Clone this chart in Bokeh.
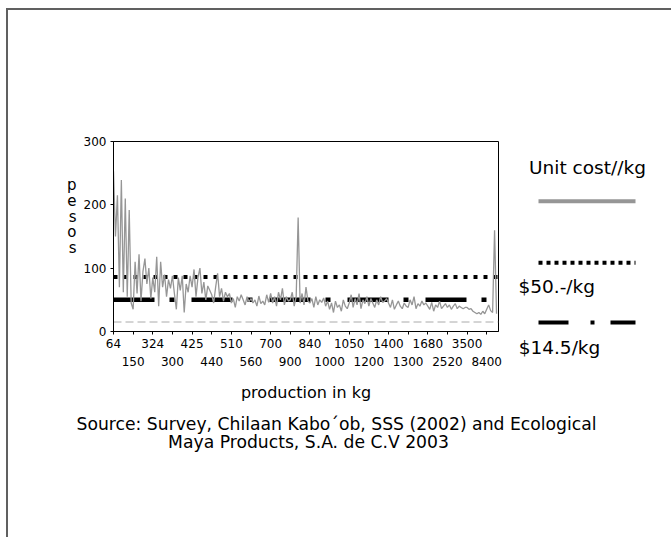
from bokeh.plotting import figure
from bokeh.models import Range1d, FixedTicker, LinearAxis, Span
from bokeh.layouts import column, row
from bokeh.embed import file_html
from bokeh.resources import INLINE
from bokeh.core.properties import value

# ---------------- data ----------------
unit_cost = [
    253, 150, 215, 70, 239, 62, 210, 55, 192, 45,
    35, 110, 60, 122, 48, 95, 115, 75, 100, 52,
    85, 62, 118, 40, 110, 70, 90, 55, 82, 68,
    88, 60, 35, 85, 65, 88, 30, 75, 62, 88,
    70, 98, 55, 85, 100, 60, 78, 50, 72, 65,
    58, 45, 70, 92, 55, 68, 48, 62, 55, 60,
    45, 52, 38, 55, 48, 58, 50, 42, 55, 47,
    52, 45, 50, 40, 56, 44, 48, 42, 58, 46,
    60, 45, 55, 40, 62, 50, 68, 42, 55, 48,
    50, 62, 40, 55, 180, 45, 60, 42, 70, 48,
    45, 52, 38, 55, 42, 50, 46, 53, 40, 48,
    35, 45, 30, 48, 38, 42, 32, 50, 40, 36,
    45, 58, 38, 52, 42, 60, 36, 50, 44, 55,
    40, 52, 45, 38, 50, 42, 55, 46, 48, 52,
    45, 38, 50, 35, 42, 48, 40, 36, 45, 40,
    38, 50, 42, 55, 36, 44, 40, 48, 42, 45,
    40, 35, 46, 32, 42, 38, 48, 36, 40, 44,
    38, 42, 35, 40, 44, 36, 40, 38, 36, 38,
    38, 35, 36, 32, 30, 28, 30, 27, 32, 28,
    35, 42, 33, 30, 160, 28,
]
obs = list(range(len(unit_cost)))

tick_pos_row1 = [0, 20, 40, 60, 80, 100, 120, 140, 160, 180]
tick_labels_row1 = ["64", "324", "425", "510", "700", "840", "1050", "1400", "1680", "3500"]
tick_pos_row2 = [10, 30, 50, 70, 90, 110, 130, 150, 170, 190]
tick_labels_row2 = ["150", "300", "440", "560", "900", "1000", "1200", "1300", "2520", "8400"]
y_ticks = [0, 100, 200, 300]

level_dotted = 86
level_dashdot = 50
level_floor = 15

y_title = "pesos"
legend_title = "Unit cost//kg"
legend_labels = ["$50.-/kg", "$14.5/kg"]
x_title = "production in kg"
source_lines = ["Source: Survey, Chilaan Kabo\u00b4ob, SSS (2002) and Ecological",
                "Maya Products, S.A. de C.V 2003"]

FONT = "DejaVu Sans"
GRAY = "#969696"

# ---------------- main plot ----------------
p = figure(width=500, height=394, x_range=Range1d(0, 196), y_range=Range1d(0, 300),
           output_backend="svg", toolbar_location=None,
           min_border_left=105, min_border_right=10, min_border_top=131, min_border_bottom=72)
p.grid.visible = False
p.outline_line_color = "black"
p.outline_line_width = 1
p.background_fill_color = "white"
p.border_fill_color = "white"

ax1 = p.xaxis[0]
ax1.ticker = FixedTicker(ticks=sorted(tick_pos_row1 + tick_pos_row2))
ov1 = {pos: lab for pos, lab in zip(tick_pos_row1, tick_labels_row1)}
ov1.update({pos: " " for pos in tick_pos_row2})
ax1.major_label_overrides = ov1
ax1.major_tick_out = 3
ax1.major_tick_in = 0
ax1.minor_tick_line_color = None
ax1.major_label_standoff = 2
ax1.major_label_text_font = FONT
ax1.major_label_text_font_size = "12px"
ax1.major_label_text_color = "black"
ax1.axis_line_color = "black"

ax2 = LinearAxis(ticker=FixedTicker(ticks=tick_pos_row2),
                 major_label_overrides={pos: lab for pos, lab in zip(tick_pos_row2, tick_labels_row2)},
                 axis_line_color=None, major_tick_line_color=None, minor_tick_line_color=None,
                 major_tick_out=0, major_tick_in=0, major_label_standoff=3,
                 major_label_text_font=FONT, major_label_text_font_size="12px",
                 major_label_text_color="black",
                 axis_label=x_title, axis_label_standoff=14,
                 axis_label_text_font=FONT, axis_label_text_font_size="16px",
                 axis_label_text_font_style="normal", axis_label_text_color="black")
p.add_layout(ax2, "below")

yax = p.yaxis[0]
yax.ticker = FixedTicker(ticks=y_ticks)
yax.major_tick_out = 3
yax.major_tick_in = 0
yax.minor_tick_line_color = None
yax.major_label_standoff = 4
yax.major_label_text_font = FONT
yax.major_label_text_font_size = "12px"
yax.major_label_text_color = "black"
yax.axis_line_color = "black"

# vertical, letter-by-letter y title ("p e s o s") drawn as an extra left axis
letter_px_top, letter_px_step = 44.0, 15.7          # px below frame top, px per letter
px_per_unit = 191.0 / 300.0
letter_pos = [300 - (letter_px_top + i * letter_px_step) / px_per_unit for i in range(len(y_title))]
ytitle_axis = LinearAxis(ticker=FixedTicker(ticks=letter_pos),
                         major_label_overrides={pos: ch for pos, ch in zip(letter_pos, y_title)},
                         axis_line_color=None, major_tick_line_color=None, minor_tick_line_color=None,
                         major_tick_out=0, major_tick_in=0, major_label_standoff=4,
                         major_label_text_font=FONT, major_label_text_font_size="15px",
                         major_label_text_color="black")
p.add_layout(ytitle_axis, "left")

for lvl, dash, w, col in [(level_dotted, "4 6", 4, "black"),
                          (level_dashdot, "41 15 5 17", 4.5, "black"),
                          (level_floor, "8 4", 1, "#aaaaaa")]:
    p.add_layout(Span(location=lvl, dimension="width", line_color=col,
                      line_width=w, line_dash=dash, level="underlay"))

p.line(obs, unit_cost, line_color=GRAY, line_width=1.3)

# ---------------- legend panel (page-pixel coordinates) ----------------
lf = figure(width=163, height=394, x_range=Range1d(508, 671), y_range=Range1d(332, 141),
            x_axis_type=None, y_axis_type=None, output_backend="svg",
            toolbar_location=None, min_border_left=0, min_border_right=0,
            min_border_top=131, min_border_bottom=72)
lf.grid.visible = False
lf.outline_line_color = None
lf.border_fill_color = "white"
lf.text(x=[587], y=[167], text=[legend_title], text_align="center", text_baseline="middle",
        text_font=value(FONT), text_font_size="18.5px", text_color="black")
lf.line(x=[538, 635], y=[201, 201], line_color=GRAY, line_width=4)
lf.line(x=[538, 635], y=[263, 263], line_color="black", line_width=4, line_dash="4 4")
lf.line(x=[538, 635], y=[323, 323], line_color="black", line_width=4, line_dash="30 22 4 16")
lf.text(x=[518], y=[287], text=[legend_labels[0]], text_align="left", text_baseline="middle",
        text_font=value(FONT), text_font_size="18.5px", text_color="black")
lab_axis = LinearAxis(ticker=FixedTicker(ticks=[559]),
                      major_label_overrides={559: legend_labels[1]},
                      axis_line_color=None, major_tick_line_color=None, minor_tick_line_color=None,
                      major_tick_out=0, major_tick_in=0, major_label_standoff=5,
                      major_label_text_font=FONT, major_label_text_font_size="18.5px",
                      major_label_text_color="black")
lf.add_layout(lab_axis, "below")

# ---------------- source panel ----------------
sf = figure(width=663, height=133, x_range=Range1d(0, 663), y_range=Range1d(133, 0),
            x_axis_type=None, y_axis_type=None, output_backend="svg",
            toolbar_location=None, min_border=0)
sf.grid.visible = False
sf.outline_line_color = None
sf.text(x=[328, 300], y=[19, 37], text=source_lines, text_align="center", text_baseline="middle",
        text_font=value(FONT), text_font_size="17.2px", text_color="black")

layout = column(row(p, lf), sf, margin=(8, 0, 0, 6),
                styles={"border-top": "2px solid #606060", "border-left": "2px solid #606060"})

open("out.html", "w").write(file_html(layout, INLINE))
